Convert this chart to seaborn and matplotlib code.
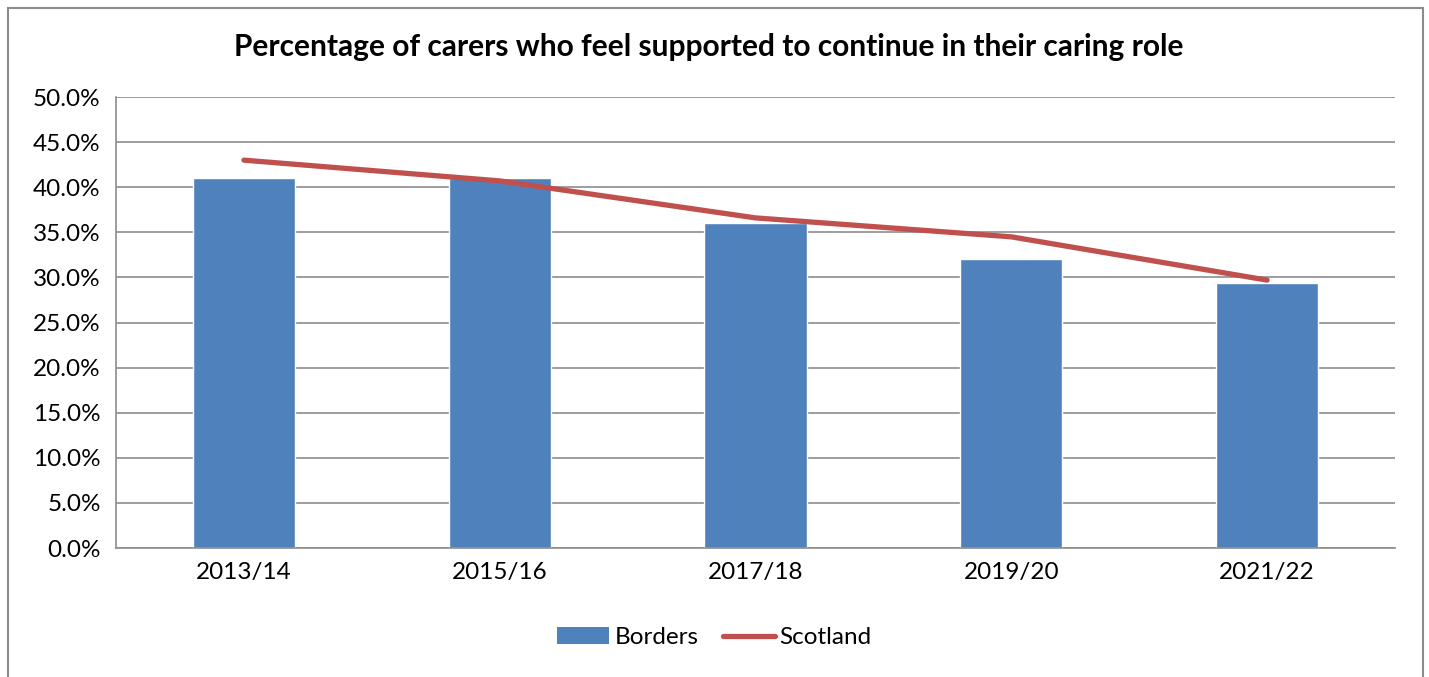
import matplotlib
matplotlib.use("Agg")
import matplotlib.pyplot as plt
from matplotlib.patches import Rectangle, Patch
from matplotlib.lines import Line2D
from matplotlib.ticker import MultipleLocator, PercentFormatter
import seaborn as sns
import pandas as pd

periods = ["2013/14", "2015/16", "2017/18", "2019/20", "2021/22"]
borders = [41.0, 41.0, 36.0, 32.0, 29.4]
scotland = [43.0, 40.7, 36.6, 34.5, 29.7]

bar_color = "#4F81BD"
line_color = "#C0504D"
grid_color = "#8C8C8C"

sns.set_theme(style="white")
plt.rcParams["font.family"] = ["Lato", "DejaVu Sans"]
plt.rcParams["text.color"] = "black"

df = pd.DataFrame({"period": periods, "Borders": borders, "Scotland": scotland})

fig = plt.figure(figsize=(14.29, 6.77), dpi=100)
ax = fig.add_axes([0.0812, 0.1905, 0.8950, 0.6662])

# outer chart frame
fig.patches.append(Rectangle((8 / 1429, -0.05), (1423 - 8) / 1429, 1.05 - 8 / 677,
                             transform=fig.transFigure, fill=False,
                             edgecolor="#8C8C8C", linewidth=1.5))

sns.barplot(data=df, x="period", y="Borders", color=bar_color, width=0.4,
            saturation=1, ax=ax, zorder=2)
sns.lineplot(data=df, x="period", y="Scotland", color=line_color, linewidth=3.8,
             ax=ax, zorder=3, solid_capstyle="round")

ax.set_xlim(-0.5, len(periods) - 0.5)
ax.set_ylim(0, 50)
ax.yaxis.set_major_locator(MultipleLocator(5))
ax.yaxis.set_major_formatter(PercentFormatter(decimals=1))
ax.grid(axis="y", color=grid_color, linewidth=1.2, zorder=0)
ax.set_axisbelow(True)

for s in ["top", "right"]:
    ax.spines[s].set_visible(False)
for s in ["left", "bottom"]:
    ax.spines[s].set_color(grid_color)
    ax.spines[s].set_linewidth(1.2)

ax.set_xlabel("")
ax.set_ylabel("")
ax.tick_params(axis="both", labelsize=17.5, colors="black")
ax.tick_params(axis="y", length=6, color=grid_color, width=1.2, pad=5)
ax.tick_params(axis="x", length=0, pad=10)
# category boundary ticks on the x axis
ax.set_xticks([i - 0.5 for i in range(len(periods) + 1)], minor=True)
ax.tick_params(axis="x", which="minor", length=6, color=grid_color, width=1.2, direction="out")

fig.text(0.496, 0.93, "Percentage of carers who feel supported to continue in their caring role",
         ha="center", va="center", fontsize=21.5, fontweight="bold")

handles = [Patch(facecolor=bar_color, edgecolor="none", label="Borders"),
           Line2D([0], [0], color=line_color, linewidth=3.8, solid_capstyle="round", label="Scotland")]
fig.legend(handles=handles, loc="center", bbox_to_anchor=(0.5, 0.058), ncol=2,
           frameon=False, fontsize=17.5, handlelength=2.15, handletextpad=0.2,
           columnspacing=1.0)

fig.savefig("out.png", dpi=100)
